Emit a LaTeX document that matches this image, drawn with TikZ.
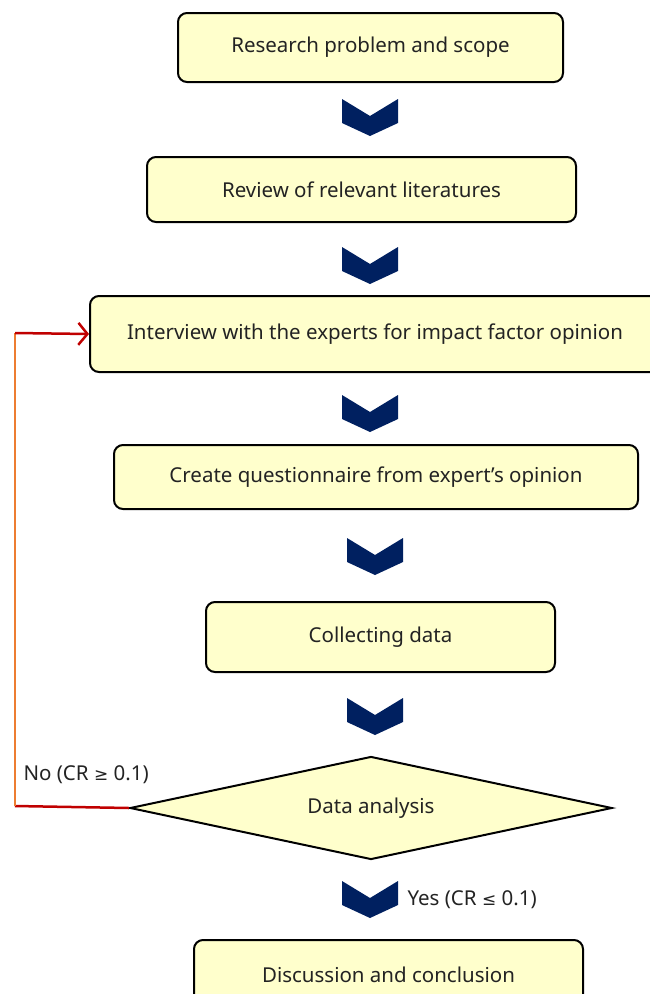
\documentclass[tikz,border=0pt]{standalone}
\usepackage{fontspec}
\setmainfont{Noto Sans}
\newfontfamily\symfont{DejaVu Sans}
\usetikzlibrary{shapes.geometric,arrows.meta}
\definecolor{boxfill}{RGB}{255,255,204}
\definecolor{chevblue}{RGB}{0,32,96}
\definecolor{loopred}{RGB}{192,0,0}
\definecolor{looporange}{RGB}{237,125,49}
\definecolor{txtgray}{RGB}{35,35,35}
\tikzset{
  stepbox/.style={draw=black,line width=2pt,rounded corners=9pt,fill=boxfill,
    text=txtgray,inner sep=0pt},
  chev/.pic={\fill[chevblue] (-28,0)--(0,17)--(28,0)--(28,24)--(0,37)--(-28,24)--cycle;},
}
\begin{document}
\begin{tikzpicture}[x=1pt,y=-1pt,font=\fontsize{20.5}{24}\selectfont]
  \useasboundingbox (0,0) rectangle (649,994);
  \node[stepbox,minimum width=385pt,minimum height=69pt] (prob) at (370.5,47.5) {Research problem and scope};
  \node[stepbox,minimum width=429pt,minimum height=65pt] (rev) at (361.5,189.5) {Review of relevant literatures};
  \node[stepbox,minimum width=570pt,minimum height=76pt] (int) at (375,334) {Interview with the experts for impact factor opinion};
  \node[stepbox,minimum width=524pt,minimum height=64pt] (quest) at (376,477) {Create questionnaire from expert’s opinion};
  \node[stepbox,minimum width=349pt,minimum height=70pt] (coll) at (380.5,637) {Collecting data};
  \node[diamond,aspect=4.7,draw=black,line width=2pt,fill=boxfill,text=txtgray,inner sep=0pt,
    minimum width=482pt,minimum height=103pt] (ana) at (371,808) {Data analysis};
  \node[stepbox,minimum width=389pt,minimum height=70pt] (disc) at (388.5,975) {Discussion and conclusion};
  % chevrons between steps
  \pic at (370,99) {chev};
  \pic at (370,247) {chev};
  \pic at (370,395) {chev};
  \pic at (375,538) {chev};
  \pic at (375,698) {chev};
  \pic at (370,881) {chev};
  % loop back when CR too high
  \coordinate (lb) at (15,806);
  \coordinate (lt) at (15,333);
  \draw[loopred,line width=2.5pt] (ana.west)--(lb);
  \draw[looporange,line width=2.5pt] (lb)--(lt);
  \draw[loopred,line width=2.5pt,-{Straight Barb[length=9pt,width=22pt]}] (lt)--(int.west);
  \node[text=txtgray,anchor=west] (no) at (20,775) {No (CR {\symfont\fontsize{17}{20}\selectfont ≥} 0.1)};
  \node[text=txtgray,anchor=west] (yes) at (404,900) {Yes (CR {\symfont\fontsize{17}{20}\selectfont ≤} 0.1)};
\end{tikzpicture}
\end{document}
